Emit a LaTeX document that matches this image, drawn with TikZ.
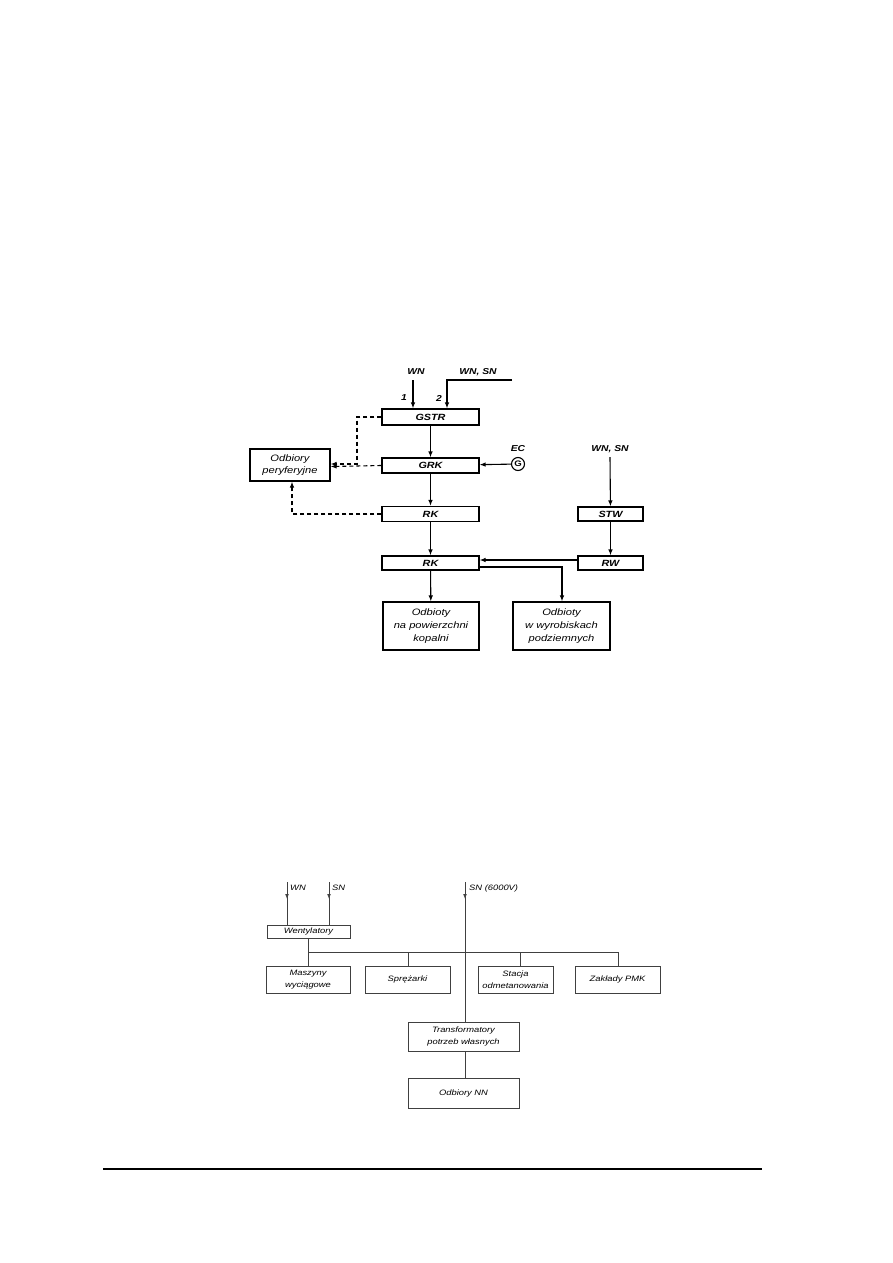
\documentclass[tikz,border=0pt]{standalone}
\usepackage{fontspec}
\setmainfont{Liberation Sans}
\newfontfamily\diagfont[FakeStretch=1.2]{Liberation Sans}
\usetikzlibrary{arrows.meta, positioning}

\begin{document}
\begin{tikzpicture}[
  x=1pt, y=-1pt,
  box/.style={rectangle, draw, inner sep=0pt, align=center, line width=1.1pt,
    font=\diagfont\itshape\fontsize{9.3}{12.8}\selectfont},
  kbox/.style={box, font=\diagfont\itshape\bfseries\fontsize{9}{12}\selectfont},
  sbox/.style={rectangle, draw=black!75, inner sep=0pt, align=center, line width=0.8pt,
    font=\diagfont\itshape\fontsize{7.8}{11.5}\selectfont},
  lbl/.style={inner sep=0pt, font=\diagfont\itshape\bfseries\fontsize{8.6}{10}\selectfont},
  slbl/.style={inner sep=0pt, anchor=west, font=\diagfont\itshape\fontsize{7.8}{10}\selectfont},
  arrow/.style={-{Latex[length=6pt,width=4.5pt]}, line width=1.1pt},
  feedline/.style={arrow, dash pattern=on 4pt off 3pt},
  sline/.style={draw=black!75, line width=0.8pt},
  sarrow/.style={sline, -{Latex[length=5pt,width=3.8pt]}}
]
  \useasboundingbox (0,0) rectangle (893,1263);

  % upper scheme
  \node[kbox, minimum width=97pt, minimum height=16pt] (gstr) at (430.5,417) {GSTR};
  \node[kbox, minimum width=97pt, minimum height=15pt] (grk) at (430.5,465.5) {GRK};
  \node[kbox, minimum width=97pt, minimum height=15pt] (rka) at (430.5,514) {RK};
  \node[kbox, minimum width=97pt, minimum height=14pt] (rkb) at (430.5,563) {RK};
  \node[kbox, minimum width=65pt, minimum height=14pt] (stw) at (610.5,514) {STW};
  \node[kbox, minimum width=65pt, minimum height=14pt] (rw) at (610.5,563) {RW};
  \node[box, minimum width=80pt, minimum height=32pt] (odbp) at (290,465) {Odbiory\\peryferyjne};
  \node[box, minimum width=96pt, minimum height=48pt] (odbn) at (431,626) {Odbioty\\na powierzchni\\kopalni};
  \node[box, minimum width=97pt, minimum height=48pt] (odbw) at (561.5,626) {Odbioty\\w wyrobiskach\\podziemnych};
  \node[circle, draw, line width=1.1pt, minimum size=13pt, inner sep=0pt, font=\diagfont\bfseries\fontsize{8}{9}\selectfont] (gen) at (518,464) {G};

  \node[lbl] (ec) at (518,449) {EC};
  \node[lbl] (wna) at (416,372) {WN};
  \node[lbl] (wnb) at (478,372) {WN, SN};
  \node[lbl] (wnc) at (610,449) {WN, SN};
  \node[lbl] (one) at (404,398) {1};
  \node[lbl] (two) at (439,398) {2};

  \coordinate (ina) at (413,380);
  \coordinate (inb) at (512,380);
  \coordinate (inbk) at (447,380);
  \coordinate (inc) at (610,457);

  \draw[arrow] (ina) -- (ina |- gstr.north);
  \draw[arrow] (inb) -- (inbk) -- (inbk |- gstr.north);
  \draw[arrow, line width=1.8pt] (gstr) -- (grk);
  \draw[arrow] (grk) -- (rka);
  \draw[arrow] (rka) -- (rkb);
  \draw[arrow] (rkb) -- (odbn);
  \draw[arrow] (gen) -- (grk);
  \draw[arrow] (inc) -- (stw);
  \draw[arrow] (stw) -- (rw);
  \draw[arrow] ([yshift=3pt]rw.west) -- ([yshift=3pt]rkb.east);
  \draw[arrow] ([yshift=-4pt]rkb.east) -| (odbw.north -| 562,0);
  \draw[feedline] (gstr.west) -- (357,417) |- ([yshift=1pt]odbp.east);
  \draw[feedline] (grk.west) -- ([yshift=-1pt]odbp.east |- grk.west);
  \draw[feedline] (rka.west) -| (odbp.south -| 292,0);

  % lower scheme
  \node[sbox, minimum width=83pt, minimum height=13pt] (went) at (308.5,931.5) {Wentylatory};
  \node[sbox, minimum width=84pt, minimum height=27pt] (masz) at (308,979.5) {Maszyny\\wyciągowe};
  \node[sbox, minimum width=85pt, minimum height=27pt] (sprez) at (407.5,979.5) {Sprężarki};
  \node[sbox, minimum width=75pt, minimum height=27pt] (stacja) at (515.5,979.5) {Stacja\\odmetanowania};
  \node[sbox, minimum width=85pt, minimum height=27pt] (pmk) at (617.5,979.5) {Zakłady PMK};
  \node[sbox, minimum width=111pt, minimum height=29pt] (trans) at (463.5,1036.5) {Transformatory\\potrzeb własnych};
  \node[sbox, minimum width=111pt, minimum height=30pt] (nn) at (463.5,1093) {Odbiory NN};

  \node[slbl] (wnd) at (290,888) {WN};
  \node[slbl] (snd) at (332,888) {SN};
  \node[slbl] (sne) at (469,888) {SN (6000V)};

  \coordinate (ind) at (287,882);
  \coordinate (ine) at (329,882);
  \coordinate (inf) at (465,882);
  \coordinate (busl) at (308,952);
  \coordinate (busr) at (618,952);

  \foreach \c in {ind, ine, inf} {
    \draw[sarrow] (\c) -- ++(0,17);
  }
  \draw[sline] (ind) -- (went.north -| ind);
  \draw[sline] (ine) -- (went.north -| ine);
  \draw[sline] (inf) -- (trans.north -| inf);
  \draw[sline] (busl) -- (busr);
  \draw[sline] (went.south -| busl) -- (masz.north -| busl);
  \draw[sline] (408,952) -- (sprez.north -| 408,0);
  \draw[sline] (520,952) -- (stacja.north -| 520,0);
  \draw[sline] (busr) -- (pmk.north -| busr);
  \draw[sline] (trans.south -| inf) -- (nn.north -| inf);

  % page rule
  \draw[line width=1.1pt] (103,1169) -- (762,1169);
\end{tikzpicture}
\end{document}
